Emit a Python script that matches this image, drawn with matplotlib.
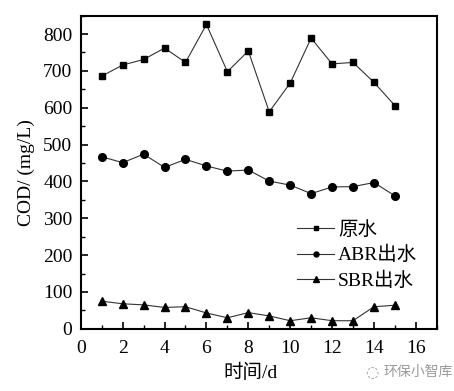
import matplotlib
matplotlib.use("Agg")
import matplotlib.pyplot as plt
from matplotlib.ticker import MultipleLocator

days = list(range(1, 16))
raw = [686, 716, 731, 762, 723, 826, 698, 754, 589, 667, 789, 719, 723, 669, 606]
abr = [467, 451, 474, 438, 460, 442, 428, 431, 401, 390, 367, 385, 386, 397, 361]
sbr = [75, 68, 65, 58, 60, 43, 30, 44, 35, 22, 30, 22, 22, 60, 64]
labels = ["原水", "ABR出水", "SBR出水"]

fam = ["Liberation Serif", "Noto Sans CJK SC", "DejaVu Sans"]
plt.rcParams["font.family"] = fam

fig = plt.figure(figsize=(4.54, 3.91), dpi=100)
ax = fig.add_axes([0.178, 0.159, 0.784, 0.801])

lc = "#333333"
ax.plot(days, raw, color=lc, lw=0.8, marker="s", ms=5, mfc="black", mec="black", label=labels[0])
ax.plot(days, abr, color=lc, lw=0.8, marker="o", ms=5.5, mfc="black", mec="black", label=labels[1])
ax.plot(days, sbr, color=lc, lw=0.8, marker="^", ms=6, mfc="black", mec="black", label=labels[2])

ax.set_xlim(0, 17)
ax.set_ylim(0, 850)
ax.xaxis.set_major_locator(MultipleLocator(2))
ax.xaxis.set_minor_locator(MultipleLocator(1))
ax.yaxis.set_major_locator(MultipleLocator(100))
ax.yaxis.set_minor_locator(MultipleLocator(50))
ax.tick_params(which="major", direction="in", length=5, width=1.2, labelsize=14, top=False, right=False)
ax.tick_params(axis="x", which="major", pad=8)
ax.tick_params(axis="y", which="major", pad=6)
ax.tick_params(which="minor", direction="in", length=3, width=1.0, top=False, right=False)
for s in ax.spines.values():
    s.set_linewidth(1.5)

ax.set_xlabel("时间/d", fontsize=14)
ax.xaxis.set_label_coords(0.477, -0.140)
ax.xaxis.label.set_va("center")
ax.set_ylabel("COD/ (mg/L)", fontsize=14, labelpad=6)

leg = ax.legend(loc="upper left", bbox_to_anchor=(0.608, 0.345), frameon=False, fontsize=14,
                handlelength=1.9, handletextpad=0.2, labelspacing=0.38, markerscale=0.65,
                borderpad=0, borderaxespad=0)

fig.text(0.845, 0.048, "环保小智库", fontsize=10, color="#999999", ha="left", va="center",
         family=["Noto Sans CJK SC", "DejaVu Sans"])
fig.text(0.805, 0.048, "◌", fontsize=11, color="#999999", ha="left", va="center",
         family=["DejaVu Sans"])

fig.savefig("out.png", dpi=100)
